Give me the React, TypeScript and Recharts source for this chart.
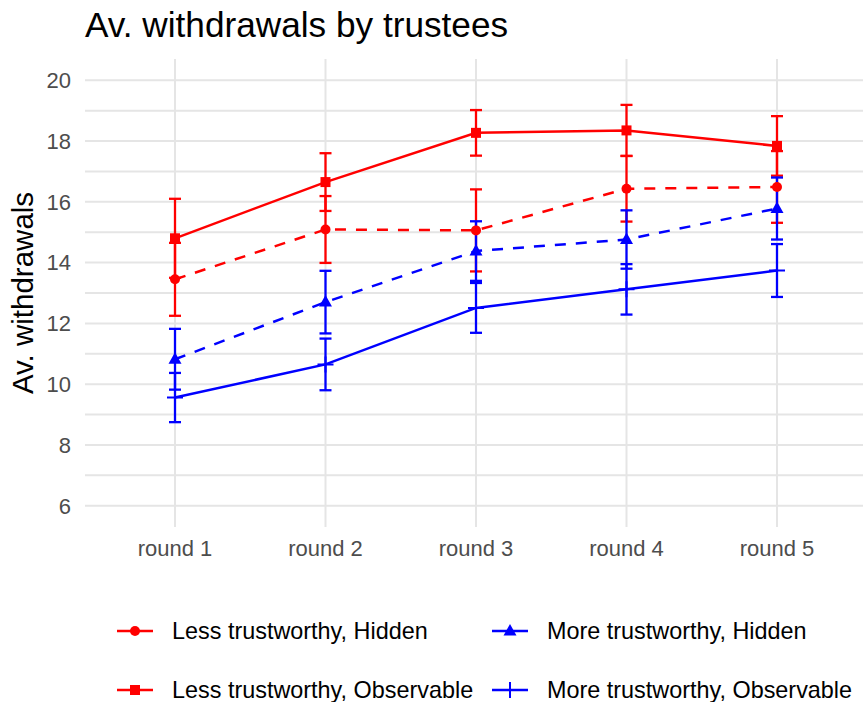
import React from "react"
import { CartesianGrid, ErrorBar, Line, LineChart, XAxis, YAxis } from "recharts"

const rounds = ["round 1", "round 2", "round 3", "round 4", "round 5"]

// Less trustworthy, Hidden (red, dashed, circle)
const lessHidden = [13.45, 15.09, 15.06, 16.43, 16.49]
const lessHiddenErr = [1.2, 1.1, 1.35, 1.08, 1.18]
// Less trustworthy, Observable (red, solid, square)
const lessObs = [14.8, 16.65, 18.27, 18.35, 17.84]
const lessObsErr = [1.3, 0.95, 0.75, 0.84, 0.98]
// More trustworthy, Hidden (blue, dashed, triangle)
const moreHidden = [10.82, 12.7, 14.38, 14.76, 15.78]
const moreHiddenErr = [1.0, 1.03, 0.98, 0.96, 1.02]
// More trustworthy, Observable (blue, solid, cross)
const moreObs = [9.56, 10.65, 12.51, 13.12, 13.74]
const moreObsErr = [0.81, 0.85, 0.82, 0.83, 0.87]

const yMajor = [6, 8, 10, 12, 14, 16, 18, 20]
const yMinor = [7, 9, 11, 13, 15, 17, 19]

const RED = "#ff0000"
const BLUE = "#0000ff"
const FONT = '"Liberation Sans", Arial, sans-serif'

const data = rounds.map((round, i) => ({
  round,
  lessHidden: lessHidden[i],
  lessHiddenErr: lessHiddenErr[i],
  lessObs: lessObs[i],
  lessObsErr: lessObsErr[i],
  moreHidden: moreHidden[i],
  moreHiddenErr: moreHiddenErr[i],
  moreObs: moreObs[i],
  moreObsErr: moreObsErr[i],
}))

const yTicks = [...yMajor, ...yMinor].sort((a, b) => a - b)

const circleDot = (p: any) => <circle key={p.index} cx={p.cx} cy={p.cy} r={5} fill={RED} />
const squareDot = (p: any) => (
  <rect key={p.index} x={p.cx - 5} y={p.cy - 5} width={10} height={10} fill={RED} />
)
const triangleDot = (p: any) => (
  <path
    key={p.index}
    d={`M${p.cx},${p.cy - 7} L${p.cx + 6.5},${p.cy + 4.5} L${p.cx - 6.5},${p.cy + 4.5} Z`}
    fill={BLUE}
  />
)
const crossDot = (p: any) => (
  <path
    key={p.index}
    d={`M${p.cx - 8},${p.cy} H${p.cx + 8} M${p.cx},${p.cy - 8} V${p.cy + 8}`}
    stroke={BLUE}
    strokeWidth={2}
    fill="none"
  />
)

const legendItems = [
  { label: "Less trustworthy, Hidden", color: RED, dot: circleDot },
  { label: "More trustworthy, Hidden", color: BLUE, dot: triangleDot },
  { label: "Less trustworthy, Observable", color: RED, dot: squareDot },
  { label: "More trustworthy, Observable", color: BLUE, dot: crossDot },
]

function YTitle(props: any) {
  const vb = props.viewBox || { y: 59, height: 468 }
  const cy = vb.y + vb.height / 2
  return (
    <text
      x={33}
      y={cy}
      transform={`rotate(-90, 33, ${cy})`}
      textAnchor="middle"
      fontSize={29.5}
      fontFamily={FONT}
      fill="#000"
    >
      Av. withdrawals
    </text>
  )
}

export default function App() {
  return (
    <div style={{ position: "absolute", left: 0, top: 0, width: 863, height: 702, background: "#fff", fontFamily: FONT }}>
      <div style={{ position: "absolute", left: 85, top: 7, fontSize: 35.2, lineHeight: "35px", color: "#000", whiteSpace: "nowrap" }}>
        Av. withdrawals by trustees
      </div>
      <LineChart width={863} height={702} data={data} margin={{ top: 59, right: 0, bottom: 135, left: 0 }}>
        <CartesianGrid stroke="#e5e5e5" strokeWidth={2} syncWithTicks />
        <XAxis
          dataKey="round"
          padding={{ left: 90, right: 86 }}
          axisLine={false}
          tickLine={false}
          tickSize={0}
          tickMargin={13}
          height={40}
          tick={{ fontSize: 22, fill: "#4d4d4d", fontFamily: FONT }}
        />
        <YAxis
          type="number"
          domain={[5.3, 20.7]}
          ticks={yTicks}
          interval={0}
          tickFormatter={(v: number) => (yMajor.includes(v) ? String(v) : "")}
          axisLine={false}
          tickLine={false}
          tickSize={0}
          tickMargin={14}
          width={85}
          tick={{ fontSize: 22, fill: "#4d4d4d", fontFamily: FONT }}
          label={<YTitle />}
        />
        <Line
          dataKey="lessHidden"
          stroke={RED}
          strokeWidth={2.5}
          strokeDasharray="11 10"
          dot={circleDot}
          activeDot={false}
          isAnimationActive={false}
        >
          <ErrorBar dataKey="lessHiddenErr" direction="y" width={6} stroke={RED} strokeWidth={2.3} />
        </Line>
        <Line
          dataKey="lessObs"
          stroke={RED}
          strokeWidth={2.5}
          dot={squareDot}
          activeDot={false}
          isAnimationActive={false}
        >
          <ErrorBar dataKey="lessObsErr" direction="y" width={6} stroke={RED} strokeWidth={2.3} />
        </Line>
        <Line
          dataKey="moreHidden"
          stroke={BLUE}
          strokeWidth={2.5}
          strokeDasharray="11 10"
          dot={triangleDot}
          activeDot={false}
          isAnimationActive={false}
        >
          <ErrorBar dataKey="moreHiddenErr" direction="y" width={6} stroke={BLUE} strokeWidth={2.3} />
        </Line>
        <Line
          dataKey="moreObs"
          stroke={BLUE}
          strokeWidth={2.5}
          dot={crossDot}
          activeDot={false}
          isAnimationActive={false}
        >
          <ErrorBar dataKey="moreObsErr" direction="y" width={6} stroke={BLUE} strokeWidth={2.3} />
        </Line>
      </LineChart>
      {legendItems.map((item, i) => {
        const col = i % 2
        const row = Math.floor(i / 2)
        return (
          <div
            key={item.label}
            style={{
              position: "absolute",
              left: col === 0 ? 114 : 489,
              top: row === 0 ? 616 : 675,
              height: 30,
              display: "flex",
              alignItems: "center",
              whiteSpace: "nowrap",
            }}
          >
            <svg width={42} height={30} style={{ display: "block" }}>
              <line x1={3} y1={15} x2={39} y2={15} stroke={item.color} strokeWidth={2.5} />
              {item.dot({ cx: 21, cy: 15, index: 0 })}
            </svg>
            <span style={{ marginLeft: 16, fontSize: 23.4, color: "#000" }}>{item.label}</span>
          </div>
        )
      })}
    </div>
  )
}
